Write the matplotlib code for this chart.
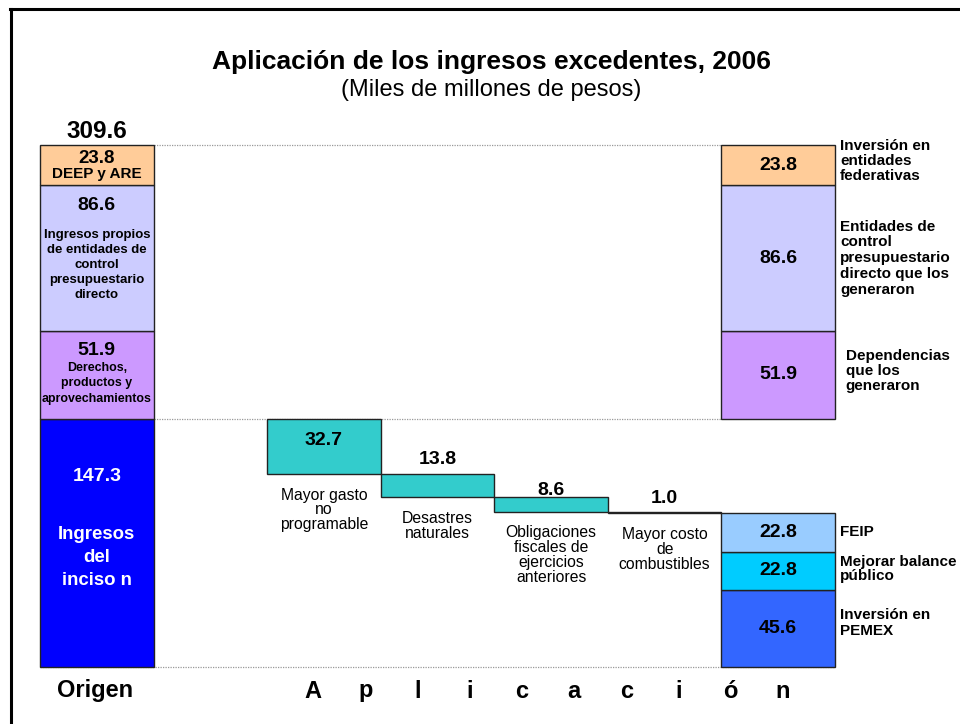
import matplotlib
matplotlib.use("Agg")
import matplotlib.pyplot as plt
import numpy as np

plt.rcParams['font.family'] = ['Liberation Sans', 'DejaVu Sans']

# ---------------- data ----------------
origen_labels = ["Ingresos\ndel\ninciso n",
                 "Derechos,\nproductos y\naprovechamientos",
                 "Ingresos propios\nde entidades de\ncontrol\npresupuestario\ndirecto",
                 "DEEP y ARE"]
origen_values = [147.3, 51.9, 86.6, 23.8]
origen_colors = ["#0000FF", "#CC99FF", "#CCCCFF", "#FFCC99"]
total_value = 309.6

gasto_labels = ["Mayor gasto\nno\nprogramable", "Desastres\nnaturales",
                "Obligaciones\nfiscales de\nejercicios\nanteriores",
                "Mayor costo\nde\ncombustibles"]
gasto_values = [32.7, 13.8, 8.6, 1.0]
gasto_color = "#33CCCC"

fondos_labels = ["Inversión en\nPEMEX", "Mejorar balance\npúblico", "FEIP"]
fondos_values = [45.6, 22.8, 22.8]
fondos_colors = ["#3366FF", "#00CCFF", "#99CCFF"]

retorno_labels = ["Dependencias\nque los\ngeneraron",
                  "Entidades de\ncontrol\npresupuestario\ndirecto que los\ngeneraron",
                  "Inversión en\nentidades\nfederativas"]
retorno_values = [51.9, 86.6, 23.8]
retorno_colors = ["#CC99FF", "#CCCCFF", "#FFCC99"]

title = "Aplicación de los ingresos excedentes, 2006"
subtitle = "(Miles de millones de pesos)"
aplic_word = "Aplicación"

# ---------------- figure ----------------
W, H = 960, 724
fig = plt.figure(figsize=(W / 100, H / 100), dpi=100)
fig.patch.set_facecolor("white")

def fx(px):
    return px / W

def fy(py):
    return 1 - py / H

# frame (extends past right/bottom edges)
fig.add_artist(plt.Line2D([fx(11), fx(11)], [fy(9), fy(760)], color="black", lw=2.2,
                          transform=fig.transFigure))
fig.add_artist(plt.Line2D([fx(10), fx(1000)], [fy(9), fy(9)], color="black", lw=2.2,
                          transform=fig.transFigure))

left_px, right_px, bottom_px, top_px = 40, 835, 667, 145
ax = fig.add_axes([fx(left_px), fy(bottom_px), (right_px - left_px) / W,
                   (bottom_px - top_px) / H])
ax.set_xlim(-0.5, 6.5)
ax.set_ylim(0, total_value)
ax.axis("off")

ec = "#222222"
# origin bar
bottoms = np.concatenate([[0], np.cumsum(origen_values)[:-1]])
ax.bar(0, origen_values, bottom=bottoms, width=1.0, color=origen_colors,
       edgecolor=ec, linewidth=1.0, clip_on=False, zorder=3)

# waterfall of gastos
top = origen_values[0]
g_tops = top - np.concatenate([[0], np.cumsum(gasto_values)[:-1]])
g_x = np.arange(2, 2 + len(gasto_values))
ax.bar(g_x, -np.array(gasto_values), bottom=g_tops, width=1.0, color=gasto_color,
       edgecolor=ec, linewidth=1.0, clip_on=False, zorder=3)

# right bar: fondos + retorno
f_bottoms = np.concatenate([[0], np.cumsum(fondos_values)[:-1]])
ax.bar(6, fondos_values, bottom=f_bottoms, width=1.0, color=fondos_colors,
       edgecolor=ec, linewidth=1.0, clip_on=False, zorder=3)
r_bottoms = origen_values[0] + np.concatenate([[0], np.cumsum(retorno_values)[:-1]])
ax.bar(6, retorno_values, bottom=r_bottoms, width=1.0, color=retorno_colors,
       edgecolor=ec, linewidth=1.0, clip_on=False, zorder=3)

# dotted guide lines
dot = dict(color="#999999", lw=0.9, linestyle=(0, (1, 1)), zorder=1, clip_on=False)
ax.plot([0.5, 5.5], [total_value, total_value], **dot)
ax.plot([0.5, 5.5], [origen_values[0], origen_values[0]], **dot)
ax.plot([-0.5, 6.5], [0, 0], **dot)

# ---------------- texts ----------------
fig.text(fx(491), fy(62), title, ha="center", va="center", fontsize=19, fontweight="bold")
fig.text(fx(491), fy(90), subtitle, ha="center", va="center", fontsize=17)

ax.annotate(f"{total_value:.1f}", (0, total_value), xytext=(0, 10), textcoords="offset points",
            ha="center", va="center", fontsize=17.5, fontweight="bold", annotation_clip=False)

NUM = 14
seg_top = np.cumsum(origen_values)

def seg_text(txt, y, dy, **kw):
    ax.annotate(txt, (0, y), xytext=(0, dy), textcoords="offset points",
                ha="center", va="center", annotation_clip=False, **kw)

# DEEP y ARE
seg_text(f"{origen_values[3]:.1f}", seg_top[3], -9.5, fontsize=13.5, fontweight="bold")
seg_text(origen_labels[3], seg_top[3], -21, fontsize=11, fontweight="bold")
# Ingresos propios
seg_text(f"{origen_values[2]:.1f}", seg_top[2], -14.5, fontsize=NUM, fontweight="bold")
seg_text(origen_labels[2], seg_top[2], -57.5, fontsize=9.5, fontweight="bold", linespacing=1.33)
# Derechos
seg_text(f"{origen_values[1]:.1f}", seg_top[1], -14, fontsize=NUM, fontweight="bold")
seg_text(origen_labels[1], seg_top[1], -37.5, fontsize=8.9, fontweight="bold", linespacing=1.4)
# Ingresos del inciso
seg_text(f"{origen_values[0]:.1f}", seg_top[0], -41.5, fontsize=NUM, fontweight="bold",
         color="white")
seg_text(origen_labels[0], seg_top[0], -100, fontsize=13.4, fontweight="bold", color="white",
         linespacing=1.45)

# waterfall texts
num_offsets = [-16, 10, 5, 9.5]
for xv, t, v, lab, off in zip(g_x, g_tops, gasto_values, gasto_labels, num_offsets):
    ax.annotate(f"{v:.1f}", (xv, t), xytext=(0, off), textcoords="offset points",
                ha="center", va="center", fontsize=NUM, fontweight="bold")
    ax.annotate(lab, (xv, t - v), xytext=(0, -10), textcoords="offset points",
                ha="center", va="top", fontsize=11.3, linespacing=0.98)

# right bar values
for b, v in zip(f_bottoms, fondos_values):
    ax.text(6, b + v / 2, f"{v:.1f}", ha="center", va="center", fontsize=NUM, fontweight="bold")
for b, v in zip(r_bottoms, retorno_values):
    ax.text(6, b + v / 2, f"{v:.1f}", ha="center", va="center", fontsize=NUM, fontweight="bold")

# right side labels
lab_x = 6.545
RL = 11.0

def side_text(txt, x, y, dy, va="center", ls=1.1):
    ax.annotate(txt, (x, y), xytext=(0, dy), textcoords="offset points", ha="left", va=va,
                fontsize=RL, fontweight="bold", linespacing=ls, annotation_clip=False)

side_text(fondos_labels[2], lab_x, f_bottoms[2] + fondos_values[2] / 2, 0)
side_text(fondos_labels[1], lab_x, f_bottoms[1] + fondos_values[1] / 2, 1.5, ls=0.98)
side_text(fondos_labels[0], lab_x, f_bottoms[0] + fondos_values[0] / 2, 4, ls=1.14)
side_text(retorno_labels[0], lab_x + 0.05, r_bottoms[0] + retorno_values[0] / 2, 3, ls=1.08)
side_text(retorno_labels[1], lab_x, r_bottoms[1] + retorno_values[1] / 2, 0, ls=1.16)
side_text(retorno_labels[2], lab_x, total_value, 4, va="top", ls=1.05)

# bottom category texts
fig.text(fx(95), fy(691), "Origen", ha="center", va="center", fontsize=17, fontweight="bold")
letters = list(aplic_word)
for px, ch in zip(np.linspace(313, 783, len(letters)), letters):
    fig.text(fx(px), fy(691), ch, ha="center", va="center", fontsize=17, fontweight="bold")

fig.savefig("out.png", dpi=100)
